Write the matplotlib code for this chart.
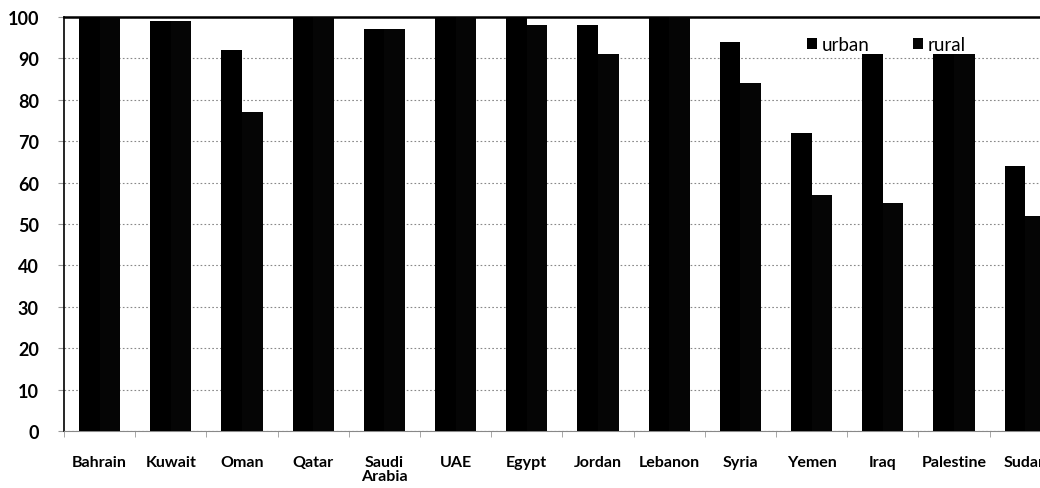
import numpy as np
import matplotlib.pyplot as plt

countries = ["Bahrain", "Kuwait", "Oman", "Qatar", "Saudi\nArabia", "UAE", "Egypt",
             "Jordan", "Lebanon", "Syria", "Yemen", "Iraq", "Palestine", "Sudan"]
urban = [100, 99, 92, 100, 97, 100, 100, 98, 100, 94, 72, 91, 91, 64]
rural = [100, 99, 77, 100, 97, 100, 98, 91, 100, 84, 57, 55, 91, 52]

plt.rcParams["font.family"] = ["Lato", "DejaVu Sans"]

fig = plt.figure(figsize=(10.4, 4.89), dpi=100)
ax = fig.add_axes([0.0615, 0.1166, 1.0 - 0.0615, 0.8466])

x = np.arange(len(countries))
w = 0.29
ax.bar(x - w / 2, urban, w, color="#000000", label="urban", zorder=3)
ax.bar(x + w / 2, rural, w, color="#050505", label="rural", zorder=3)

ax.set_yticks(range(0, 101, 10))
ax.set_xticks(x)
ax.set_xticklabels(countries, fontsize=11.5, fontweight="bold", linespacing=1.05)
ax.tick_params(axis="x", length=0, pad=17)
ax.set_xticks(np.arange(-0.5, len(countries), 1), minor=True)
ax.tick_params(axis="x", which="minor", length=4, color="#999999")
ax.tick_params(axis="y", labelsize=13, length=4, pad=14, color="#999999")
for t in ax.get_yticklabels():
    t.set_fontweight("bold")

# last group runs off the right edge
ax.set_ylim(0, 100)
ax.set_xlim(-0.5, (1040 - 64) / 71.2 - 0.5)

ax.yaxis.grid(True, linestyle=(0, (1.5, 2)), color="#888888", linewidth=0.8, zorder=0)
ax.spines["right"].set_visible(False)
ax.spines["top"].set_linewidth(1.8)
ax.spines["left"].set_linewidth(1.2)
ax.spines["bottom"].set_color("#888888")

ax.legend(loc="upper left", bbox_to_anchor=(0.744, 0.995), ncol=2, frameon=False,
          fontsize=13.5, handlelength=0.55, handleheight=0.55, handletextpad=0.25,
          columnspacing=2.3)

fig.savefig("out.png", dpi=100)
